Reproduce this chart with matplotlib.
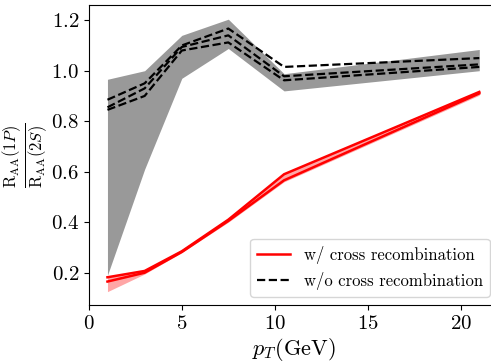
import numpy as np
import matplotlib
matplotlib.use("Agg")
import matplotlib.pyplot as plt

plt.rcParams['font.family'] = 'serif'
plt.rcParams['font.serif'] = ['cmr10']
plt.rcParams['mathtext.fontset'] = 'cm'
plt.rcParams['axes.formatter.use_mathtext'] = True

# ---- data ----
pt = [1, 3, 5, 7.5, 10.5, 21]

# w/ cross recombination (red)
red_a = [0.182, 0.207, 0.285, 0.41, 0.590, 0.916]
red_b = [0.165, 0.200, 0.282, 0.405, 0.566, 0.910]
red_lo = [0.125, 0.195, 0.280, 0.400, 0.560, 0.903]
red_hi = [0.182, 0.208, 0.287, 0.412, 0.592, 0.918]

# w/o cross recombination (black dashed)
blk_a = [0.885, 0.950, 1.100, 1.167, 1.015, 1.050]
blk_b = [0.855, 0.930, 1.094, 1.140, 0.978, 1.025]
blk_c = [0.845, 0.900, 1.080, 1.112, 0.962, 1.015]
gray_lo = [0.19, 0.61, 0.97, 1.088, 0.920, 1.000]
gray_hi = [0.966, 1.000, 1.140, 1.204, 0.988, 1.084]

fig = plt.figure(figsize=(4.91, 3.61), dpi=100)
# axes runs a little past the right edge, as in the (cropped) reference
ax = fig.add_axes([0.181, 0.155, 0.833, 0.831])

ax.fill_between(pt, gray_lo, gray_hi, color='0.6', lw=0)
ax.fill_between(pt, red_lo, red_hi, color='red', alpha=0.35, lw=0)

ax.plot(pt, red_a, color='red', lw=1.8, label='w/ cross recombination')
ax.plot(pt, red_b, color='red', lw=1.8)

ax.plot(pt, blk_a, color='black', ls='--', lw=1.6, label='w/o cross recombination')
ax.plot(pt, blk_b, color='black', ls='--', lw=1.6)
ax.plot(pt, blk_c, color='black', ls='--', lw=1.6)

ax.set_xlim(0, 22)
ax.set_ylim(0.072, 1.26)
ax.set_xticks([0, 5, 10, 15, 20])
ax.set_yticks([0.2, 0.4, 0.6, 0.8, 1.0, 1.2])
ax.tick_params(labelsize=15)

ax.set_xlabel(r'$p_T$(GeV)', fontsize=16, labelpad=2)
ax.set_ylabel(r'$\frac{\mathrm{R}_{\mathrm{AA}}(1P)}{\mathrm{R}_{\mathrm{AA}}(2S)}$', fontsize=17, labelpad=1)

ax.legend(loc='lower right', fontsize=12, handlelength=2.0)

fig.savefig('out.png', dpi=100)
